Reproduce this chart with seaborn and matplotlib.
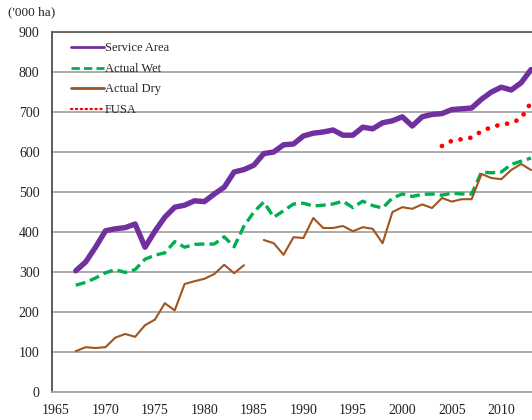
import numpy as np
import pandas as pd
import seaborn as sns
import matplotlib.pyplot as plt

# data ('000 ha)
years = list(range(1967, 2014))

service_area = [303, 325, 362, 403, 408, 411, 420, 362, 402, 437,
                462, 467, 478, 476, 495, 512, 550, 556, 567, 596,
                600, 618, 620, 640, 647, 650, 655, 642, 642, 662,
                658, 673, 678, 688, 665, 688, 694, 696, 706, 708,
                710, 732, 750, 762, 755, 773, 806]

actual_wet = [267, 274, 285, 298, 306, 299, 306, 332, 342, 348,
              376, 362, 369, 370, 370, 388, 363, 415, 450, 475,
              437, 453, 470, 472, 465, 467, 470, 477, 461, 477,
              466, 460, 485, 495, 489, 494, 495, 492, 497, 495,
              495, 550, 548, 550, 569, 577, 585]

# no value for 1985 -> the line breaks there
actual_dry = [102, 112, 110, 112, 136, 145, 138, 167, 181, 222,
              204, 270, 277, 283, 295, 318, 297, 317, np.nan, 380,
              372, 343, 387, 385, 435, 410, 410, 415, 402, 412,
              408, 372, 450, 462, 458, 469, 460, 485, 476, 482,
              482, 545, 535, 532, 555, 570, 555]

fusa_years = list(range(2004, 2014))
fusa = [615, 628, 632, 636, 652, 662, 669, 672, 684, 724]

df = pd.DataFrame({'Year': years, 'Service Area': service_area,
                   'Actual Wet': actual_wet, 'Actual Dry': actual_dry})
df['seg'] = df['Actual Dry'].isna().cumsum()
df_fusa = pd.DataFrame({'Year': fusa_years, 'FUSA': fusa})

sns.set_style('white')
plt.rcParams['font.family'] = ['Liberation Serif', 'DejaVu Serif']

fig = plt.figure(figsize=(5.32, 4.2), dpi=100)
ax = fig.add_axes([52/532, 28/420, 480/532, 360/420])

sns.lineplot(data=df, x='Year', y='Service Area', ax=ax, color='#7030A0',
             linewidth=3.9, label='Service Area', solid_capstyle='round')
sns.lineplot(data=df, x='Year', y='Actual Wet', ax=ax, color='#00B050',
             linewidth=2.4, label='Actual Wet')
ax.lines[-1].set_dashes((3, 1.5))
dry = df.dropna(subset=['Actual Dry'])
for i, (s, part) in enumerate(dry.groupby('seg')):
    sns.lineplot(data=part, x='Year', y='Actual Dry', ax=ax, color='#A0541E',
                 linewidth=1.5, label='Actual Dry' if i == 0 else None)
sns.lineplot(data=df_fusa, x='Year', y='FUSA', ax=ax, color='#FF0000',
             linewidth=3.4, label='FUSA')
ax.lines[-1].set_dashes((0.01, 2.1))
ax.lines[-1].set_dash_capstyle('round')

ax.set_xlim(1964.6, 2013.1)
ax.set_ylim(0, 900)
ax.set_xticks(range(1965, 2011, 5))
ax.set_yticks(range(0, 901, 100))
ax.tick_params(length=0, labelsize=10, colors='#222222')
ax.tick_params(axis='y', pad=9)
ax.tick_params(axis='x', pad=9)
ax.set_xlabel('')
ax.set_ylabel('')
ax.yaxis.grid(True, color='#A6A6A6', linewidth=1.3)
ax.set_axisbelow(True)

ax.spines['left'].set_color('#404040')
ax.spines['left'].set_linewidth(1.2)
ax.spines['top'].set_color('#606060')
ax.spines['top'].set_linewidth(1.3)
ax.spines['bottom'].set_color('#A6A6A6')
ax.spines['bottom'].set_linewidth(1.3)
ax.spines['right'].set_visible(False)

leg = ax.legend(loc='upper left', bbox_to_anchor=(0.03, 0.985), frameon=False,
                fontsize=9, handlelength=2.6, handletextpad=0.1,
                labelspacing=0.68, borderaxespad=0)
for h in leg.get_lines():
    h.set_linewidth(2.0)
leg.get_lines()[3].set_linewidth(1.6)
leg.get_lines()[3].set_dashes((0.6, 1.6))

fig.text(8/532, 1 - 12/420, "('000 ha)", fontsize=9.5, va='center',
         ha='left', color='#222222')

fig.savefig('out.png', dpi=100)
